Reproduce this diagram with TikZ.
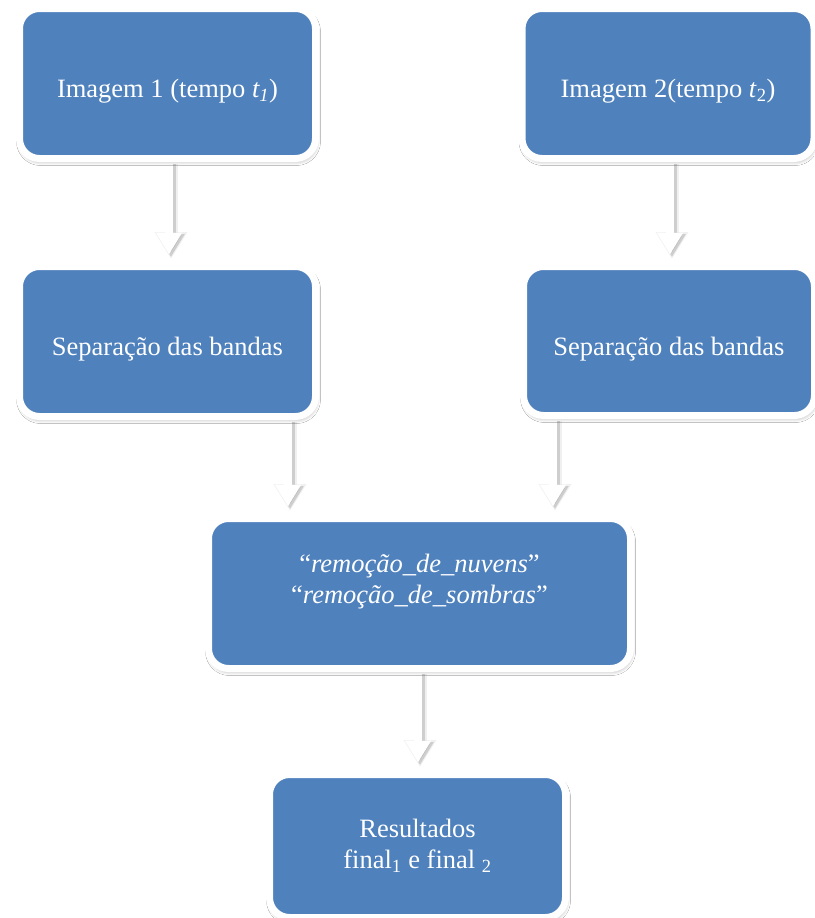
\documentclass[tikz,border=0pt]{standalone}
\usepackage{fontspec}
\setmainfont{Liberation Serif}
\usetikzlibrary{arrows.meta,shadows.blur}
\definecolor{boxblue}{HTML}{4F81BD}
\pgfdeclarelayer{bg}
\pgfsetlayers{bg,main}
\tikzset{
  box/.style={draw=white, line width=7pt, fill=boxblue, rounded corners=20pt,
    text=white, align=center, inner sep=0pt,
    font=\fontsize{26.5}{31}\selectfont,
    blur shadow={shadow xshift=1pt, shadow yshift=-3pt, shadow blur radius=4pt, shadow opacity=35}},
  oneline/.style={text height=28pt, text depth=0pt},
  arrw/.style={line width=8pt, white, -{Triangle[width=25pt,length=22pt]}, shorten >=8.5pt},
  arrsh/.style={line width=9pt, black, opacity=0.14, -{Triangle[width=26pt,length=23pt]}, shorten >=8pt, transform canvas={xshift=2pt, yshift=-2pt}},
  arrsh2/.style={line width=13pt, black, opacity=0.06, -{Triangle[width=31pt,length=27pt]}, shorten >=6pt, transform canvas={xshift=2pt, yshift=-2pt}}
}
\begin{document}
\begin{tikzpicture}[x=1pt,y=-1pt]
\useasboundingbox (0,0) rectangle (814,918);
\node[box, oneline, minimum width=296pt, minimum height=150pt] (b1) at (167.5,83.5) {Imagem 1 (tempo \textit{t\textsubscript{1}})};
\node[box, oneline, minimum width=292pt, minimum height=150pt] (b2) at (668,83.5) {Imagem 2(tempo \textit{t}\textsubscript{2})};
\node[box, oneline, minimum width=296pt, minimum height=150pt] (b3) at (167.5,341.5) {Separação das bandas};
\node[box, oneline, minimum width=291pt, minimum height=149pt] (b4) at (669,341) {Separação das bandas};
\node[box, minimum width=422pt, minimum height=150pt, text depth=30pt] (b5) at (419.5,593.5) {“\textit{remoção\_de\_nuvens}”\\“\textit{remoção\_de\_sombras}”};
\node[box, minimum width=296pt, minimum height=143pt] (b6) at (417.5,846) {Resultados\\final\textsubscript{1} e final \textsubscript{2}};
\coordinate (c1) at (169,0);
\coordinate (c2) at (670,0);
\coordinate (cl) at (288,0);
\coordinate (cr) at (553,0);
\coordinate (cm) at (418,0);
\begin{pgfonlayer}{bg}
\fill[white] (0,0) rectangle (814,918);
\foreach \a/\b/\c in {b1/b3/c1, b2/b4/c2, b3/b5/cl, b4/b5/cr, b5/b6/cm}{
  \draw[arrsh2] (\a.south -| \c) -- (\b.north -| \c);
  \draw[arrsh] (\a.south -| \c) -- (\b.north -| \c);
  \draw[arrw] (\a.south -| \c) -- (\b.north -| \c);
}
\end{pgfonlayer}
\end{tikzpicture}
\end{document}
